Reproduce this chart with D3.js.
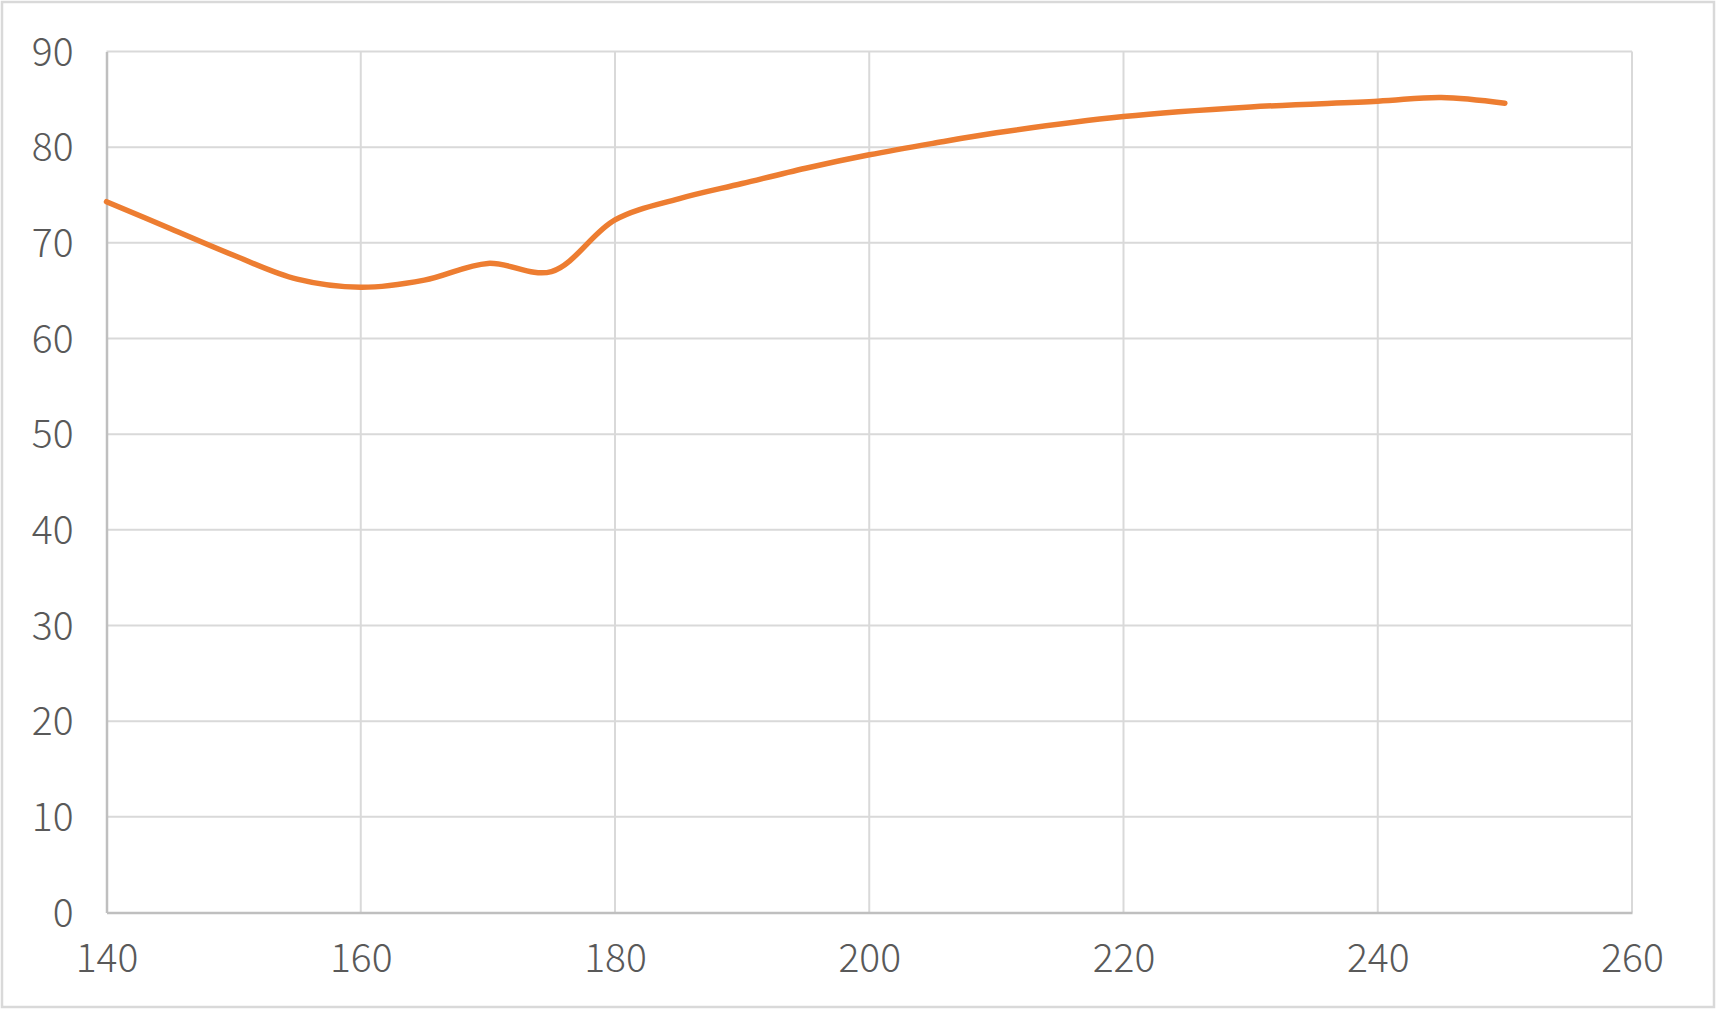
<!DOCTYPE html>
<html>
<head>
<meta charset="utf-8">
<script src="https://cdn.jsdelivr.net/npm/d3@7"></script>
<style>
  html, body { margin: 0; padding: 0; background: #fff; }
  svg { display: block; }
</style>
</head>
<body>
<svg id="chart" width="1717" height="1010"></svg>
<script>
const xValues = [140, 145, 150, 155, 160, 165, 170, 175, 180, 185, 190, 195, 200, 205, 210, 220, 230, 240, 245, 250];
const yValues = [74.3, 71.5, 68.7, 66.2, 65.35, 66.1, 67.85, 67.0, 72.4, 74.6, 76.2, 77.8, 79.2, 80.4, 81.5, 83.2, 84.2, 84.8, 85.2, 84.6];
const xTicks = [140, 160, 180, 200, 220, 240, 260];
const yTicks = [0, 10, 20, 30, 40, 50, 60, 70, 80, 90];

const svg = d3.select("#chart");
const W = 1717, H = 1010;
const m = { left: 106.5, right: 1632, top: 51.5, bottom: 912.5 };

svg.append("rect").attr("x", 2).attr("y", 2).attr("width", W - 5).attr("height", H - 5)
  .attr("fill", "#fff").attr("stroke", "#d9d9d9").attr("stroke-width", 2.5);

const x = d3.scaleLinear().domain([140, 260]).range([m.left, m.right]);
const y = d3.scaleLinear().domain([0, 90]).range([m.bottom, m.top]);

const font = "'Noto Sans CJK SC', 'Noto Sans', sans-serif";

// gridlines
svg.append("g").selectAll("line").data(yTicks.filter(d => d > 0)).join("line")
  .attr("x1", m.left).attr("x2", m.right)
  .attr("y1", d => y(d)).attr("y2", d => y(d))
  .attr("stroke", "#d9d9d9").attr("stroke-width", 2);
svg.append("g").selectAll("line").data(xTicks.filter(d => d > 140)).join("line")
  .attr("y1", m.top).attr("y2", m.bottom)
  .attr("x1", d => x(d)).attr("x2", d => x(d))
  .attr("stroke", "#d9d9d9").attr("stroke-width", 2);

// axes
const xAxis = d3.axisBottom(x).tickValues(xTicks).tickSize(0).tickPadding(0);
const gx = svg.append("g").attr("transform", `translate(0,${m.bottom})`).call(xAxis);
gx.select(".domain").attr("stroke", "#bfbfbf").attr("stroke-width", 2.5);
gx.selectAll("text").attr("font-family", font).attr("font-size", 39).attr("font-weight", 300)
  .attr("fill", "#595959").attr("y", 47).attr("dy", "0.32em");

const yAxis = d3.axisLeft(y).tickValues(yTicks).tickSize(0).tickPadding(0);
const gy = svg.append("g").attr("transform", `translate(${m.left},0)`).call(yAxis);
gy.select(".domain").attr("stroke", "#bfbfbf").attr("stroke-width", 2.5);
gy.selectAll("text").attr("font-family", font).attr("font-size", 39).attr("font-weight", 300)
  .attr("fill", "#595959").attr("x", -33).attr("dy", "0.35em");

// line
const line = d3.line().x((d, i) => x(xValues[i])).y(d => y(d)).curve(d3.curveCatmullRom.alpha(0.5));
svg.append("path").datum(yValues).attr("d", line)
  .attr("fill", "none").attr("stroke", "#ED7D31").attr("stroke-width", 5.5)
  .attr("stroke-linecap", "round").attr("stroke-linejoin", "round");
</script>
</body>
</html>
